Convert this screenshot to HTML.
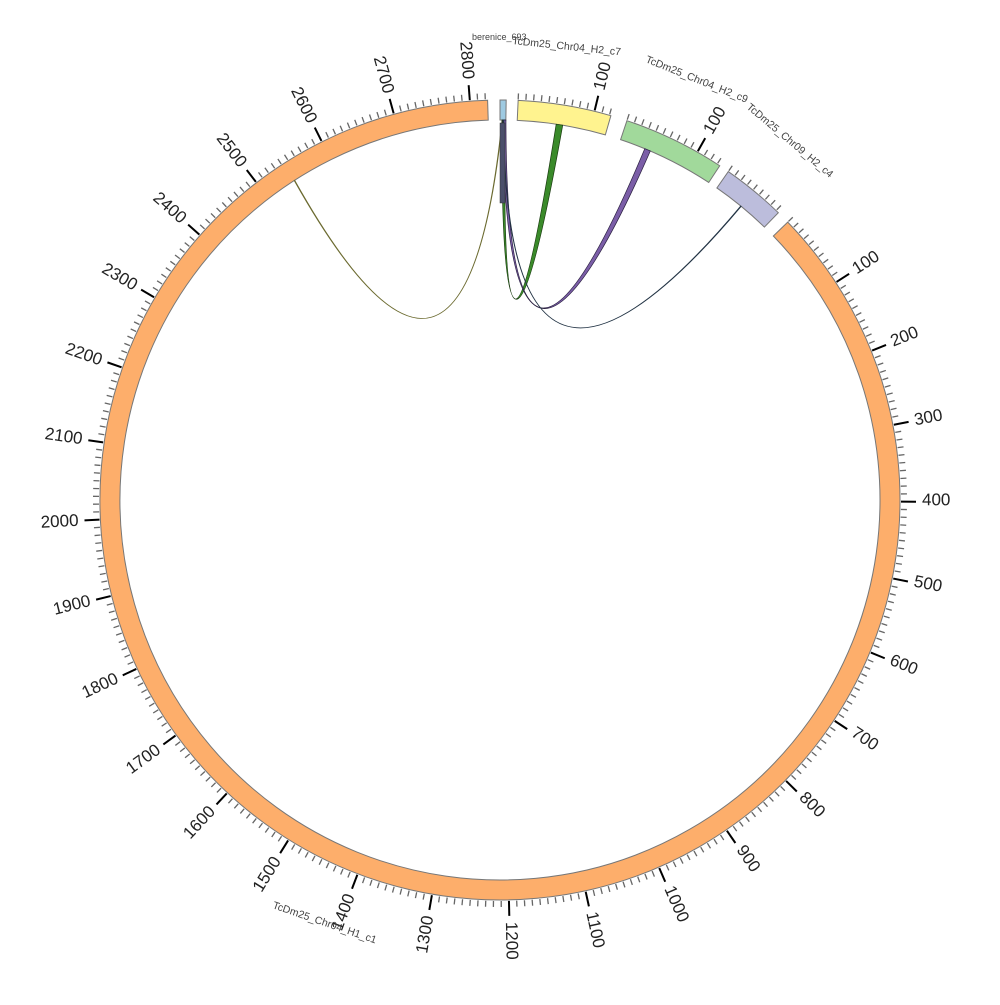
<!DOCTYPE html>
<html><head><meta charset="utf-8"><style>
html,body{margin:0;padding:0;background:#fff;}
svg text{font-family:"Liberation Sans","DejaVu Sans",sans-serif;}
.t{font-size:17px;fill:#222;dominant-baseline:middle;}
.s{font-size:10.5px;fill:#444;}
</style></head><body>
<svg id="c" width="1000" height="1000" viewBox="0 0 1000 1000" xmlns="http://www.w3.org/2000/svg">
<g id="ticks"></g>
<g id="segs"></g>
<g id="links"></g>
<rect x="500" y="123" width="5" height="80" fill="#4b4f6b" stroke="#333" stroke-width="0.5"/>
<g>
<text class="t" x="922" y="500" transform="rotate(-32.9 500 500)">100</text>
<text class="t" x="922" y="500" transform="rotate(-21.9 500 500)">200</text>
<text class="t" x="922" y="500" transform="rotate(-10.8 500 500)">300</text>
<text class="t" x="922" y="500" transform="rotate(0.1 500 500)">400</text>
<text class="t" x="922" y="500" transform="rotate(11.2 500 500)">500</text>
<text class="t" x="922" y="500" transform="rotate(22.3 500 500)">600</text>
<text class="t" x="922" y="500" transform="rotate(33.3 500 500)">700</text>
<text class="t" x="922" y="500" transform="rotate(44.4 500 500)">800</text>
<text class="t" x="922" y="500" transform="rotate(55.4 500 500)">900</text>
<text class="t" x="922" y="500" transform="rotate(66.5 500 500)">1000</text>
<text class="t" x="922" y="500" transform="rotate(77.6 500 500)">1100</text>
<text class="t" x="922" y="500" transform="rotate(88.6 500 500)">1200</text>
<text class="t" x="78" y="500" text-anchor="end" transform="rotate(-80.3 500 500)">1300</text>
<text class="t" x="78" y="500" text-anchor="end" transform="rotate(-69.3 500 500)">1400</text>
<text class="t" x="78" y="500" text-anchor="end" transform="rotate(-58.2 500 500)">1500</text>
<text class="t" x="78" y="500" text-anchor="end" transform="rotate(-47.1 500 500)">1600</text>
<text class="t" x="78" y="500" text-anchor="end" transform="rotate(-36.1 500 500)">1700</text>
<text class="t" x="78" y="500" text-anchor="end" transform="rotate(-25 500 500)">1800</text>
<text class="t" x="78" y="500" text-anchor="end" transform="rotate(-13.9 500 500)">1900</text>
<text class="t" x="78" y="500" text-anchor="end" transform="rotate(-2.9 500 500)">2000</text>
<text class="t" x="78" y="500" text-anchor="end" transform="rotate(8.2 500 500)">2100</text>
<text class="t" x="78" y="500" text-anchor="end" transform="rotate(19.2 500 500)">2200</text>
<text class="t" x="78" y="500" text-anchor="end" transform="rotate(30.3 500 500)">2300</text>
<text class="t" x="78" y="500" text-anchor="end" transform="rotate(41.4 500 500)">2400</text>
<text class="t" x="78" y="500" text-anchor="end" transform="rotate(52.4 500 500)">2500</text>
<text class="t" x="78" y="500" text-anchor="end" transform="rotate(63.5 500 500)">2600</text>
<text class="t" x="78" y="500" text-anchor="end" transform="rotate(74.6 500 500)">2700</text>
<text class="t" x="78" y="500" text-anchor="end" transform="rotate(85.6 500 500)">2800</text>
<text class="t" x="922" y="500" transform="rotate(-76.3 500 500)">100</text>
<text class="t" x="922" y="500" transform="rotate(-60.4 500 500)">100</text>
<text class="s" x="472" y="40" style="font-size:9px">berenice_693</text>
<text class="s" x="512" y="44" transform="rotate(6 512 44)">TcDm25_Chr04_H2_c7</text>
<text class="s" x="645" y="62" transform="rotate(22 645 62)">TcDm25_Chr04_H2_c9</text>
<text class="s" x="746" y="108" transform="rotate(40 746 108)">TcDm25_Chr09_H2_c4</text>
<text class="s" x="272" y="908" transform="rotate(19 272 908)">TcDm25_Chr04_H1_c1</text>
</g>
</svg>
<script>
(function(){
var NS="http://www.w3.org/2000/svg",cx=500,cy=500,K=0.1106;
function P(a,r){var t=a*Math.PI/180;return [cx+r*Math.sin(t),cy-r*Math.cos(t)];}
function el(p,n,at){var e=document.createElementNS(NS,n);for(var k in at)e.setAttribute(k,at[k]);p.appendChild(e);return e;}
var segs=[[46,2823,"#fdae6b"],[0,8,"#9ecae1"],[2.6,122,"#fff38f"],[18.5,134,"#a1d99b"],[34.8,84,"#bcbddc"]];
var T=document.getElementById("ticks"),S=document.getElementById("segs"),L=document.getElementById("links");
segs.forEach(function(s){
 var a0=s[0],a1=s[0]+s[1]*K,ri=380,ro=400;
 var p1=P(a0,ro),p2=P(a1,ro),p3=P(a1,ri),p4=P(a0,ri),lg=(a1-a0)>180?1:0;
 el(S,"path",{d:"M"+p1+" A"+ro+" "+ro+" 0 "+lg+" 1 "+p2+" L"+p3+" A"+ri+" "+ri+" 0 "+lg+" 0 "+p4+"Z",fill:s[2],stroke:"#777","stroke-width":1});
 if(s[1]<20)return;
 for(var v=0;v<=s[1];v+=10){
  var a=a0+v*K,maj=(v%100==0&&v>0),q1=P(a,401),q2=P(a,maj?416:407);
  el(T,"line",{x1:q1[0],y1:q1[1],x2:q2[0],y2:q2[1],stroke:maj?"#000":"#666","stroke-width":maj?2:1.3});
 }
});
function rib(a1,a2,b1,b2,c,fill,st){
 var r=380,A1=P(a1,r),A2=P(a2,r),B1=P(b1,r),B2=P(b2,r);
 el(L,"path",{d:"M"+A1+" A"+r+" "+r+" 0 0 1 "+A2+" Q"+c+" "+B1+" A"+r+" "+r+" 0 0 1 "+B2+" Q"+c+" "+A1+"Z",fill:fill,stroke:st,"stroke-width":0.7});
}
rib(0.3,0.4,327.2,327.3,"465 484","#e8e07a","#6b6a30");
rib(0.3,0.8,8.5,9.5,"500 476","#3a8a2a","#1a3a10");
rib(0.4,0.9,22.4,23.3,"506 481","#7b5ea7","#2a2040");
rib(0.5,0.6,39.3,39.4,"505 487","#6a9ab8","#234");
})();
</script>
</body></html>
